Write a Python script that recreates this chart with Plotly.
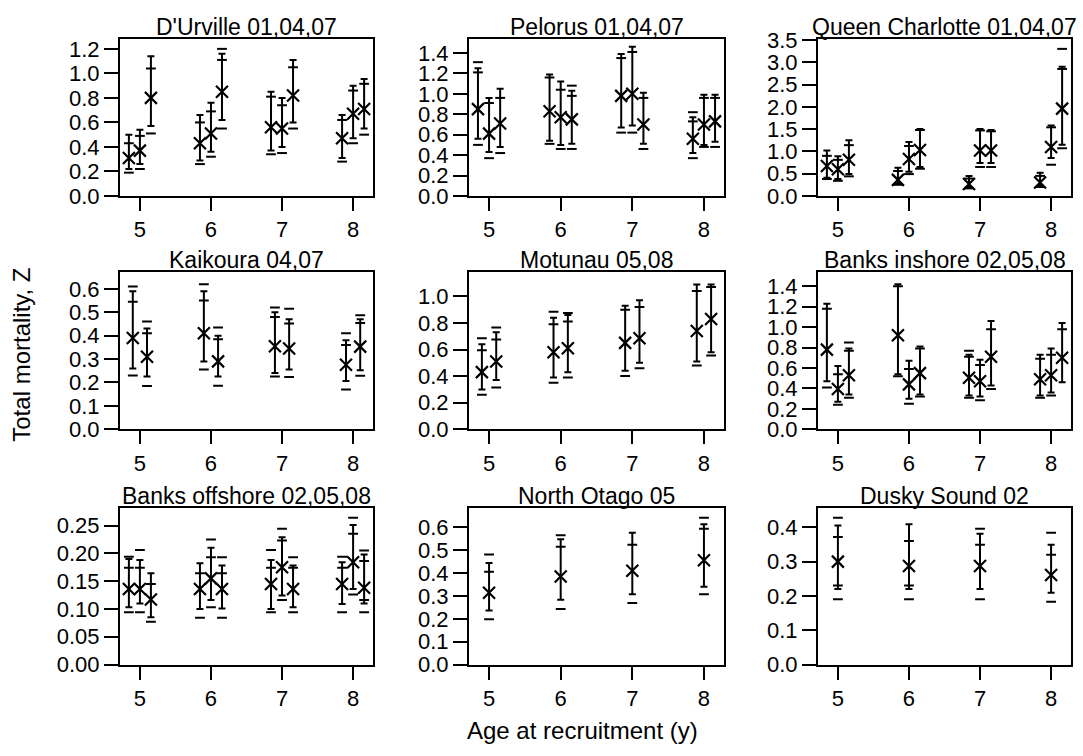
import plotly.graph_objects as go

AGES = [5, 6, 7, 8]
TITLES = ["D'Urville 01,04,07", "Pelorus 01,04,07", "Queen Charlotte 01,04,07",
          "Kaikoura 04,07", "Motunau 05,08", "Banks inshore 02,05,08",
          "Banks offshore 02,05,08", "North Otago 05", "Dusky Sound 02"]
N_SERIES = [3, 3, 3, 2, 2, 3, 3, 1, 1]
N = None

# Point estimates of Z (ordered age 5..8, series within age)
Z = [
    [.31, .37, .80, .43, .51, .85, .56, .55, .82, .47, .67, .71],
    [.85, .61, .71, .83, .77, .75, .98, 1.00, .70, .56, .70, .73],
    [.67, .60, .81, .36, .83, 1.03, .27, 1.02, 1.02, .30, 1.10, 1.96],
    [.39, .31, .41, .29, .355, .345, .276, .353],
    [.43, .51, .58, .61, .65, .685, .74, .83],
    [.78, .395, .53, .92, .44, .55, .505, .47, .71, .49, .53, .70],
    [.136, .136, .117, .136, .155, .136, .145, .175, .136, .145, .184, .138],
    [.314, .385, .41, .456],
    [.30, .287, .287, .261],
]
# Interval drawn as a capped bar
LO = [
    [.22, .26, .57, .29, .36, .62, .37, .40, .60, .31, .47, .55],
    [.56, .43, .48, .54, .50, .51, .67, .69, .51, .42, .50, .53],
    [.41, .38, .49, .27, .54, .65, .20, .74, .74, .23, .85, 1.15],
    [.26, .225, .29, .225, .24, .255, .206, .252],
    [.30, .37, .39, .43, .44, .50, .51, .58],
    [.47, .27, .34, .54, .30, .34, .33, .32, .43, .33, .36, .46],
    [.103, .11, .085, .10, .116, .101, .10, .124, .103, .109, .136, .11],
    [.236, .283, .307, .34],
    [.22, .22, .22, .209],
]
HI = [
    [.50, .54, 1.14, .66, .76, 1.16, .85, .80, 1.11, .66, .90, .955],
    [1.25, .96, 1.05, 1.19, 1.12, 1.03, 1.39, 1.46, 1.01, .77, .99, .99],
    [1.02, .89, 1.25, .63, 1.21, 1.50, .45, 1.50, 1.48, .52, 1.58, 2.90],
    [.59, .43, .59, .40, .50, .47, .38, .47],
    [.64, .73, .84, .86, .93, .97, 1.09, 1.09],
    [1.23, .62, .79, 1.42, .67, .81, .73, .68, 1.06, .73, .79, 1.04],
    [.19, .188, .164, .182, .21, .178, .188, .229, .178, .184, .251, .198],
    [.444, .548, .576, .614],
    [.405, .409, .381, .349],
]
# Second interval, drawn as short dashes only
IN_LO = [
    [N] * 12, [N] * 12, [N] * 12, [N] * 8, [N] * 8, [N] * 12,
    [N, N, N, N, N, N, N, N, N, N, N, .116],
    [N] * 4,
    [.23, .23, N, N],
]
IN_HI = [
    [.43, .49, 1.04, .60, .69, 1.11, .81, .74, 1.05, .62, .86, .915],
    [1.21, .91, .96, 1.16, 1.04, .98, 1.35, 1.41, .96, .73, .96, .96],
    [.90, .81, 1.14, .56, 1.12, 1.48, .39, 1.47, 1.45, .45, 1.54, 2.85],
    [.545, .41, .55, .385, .48, .452, .36, .454],
    [.595, .675, .79, .81, .90, .92, 1.04, 1.07],
    [1.18, .54, .77, 1.40, .59, .79, .71, .63, .98, .69, .73, .98],
    [.174, .174, .145, .164, .193, .164, .174, .223, .174, .174, .235, .186],
    [.406, .515, .524, .594],
    [.372, .36, .349, .32],
]
OUT_LO = [
    [.19, .22, .51, .26, .32, .55, .34, .35, .55, .28, .43, .50],
    [.50, .37, .42, .51, .46, .46, .62, .62, .46, .37, .48, .48],
    [.38, .34, .44, .25, .49, .61, .17, .65, .65, .20, .70, 1.07],
    [.23, .185, .255, .186, .225, .223, .17, .229],
    [.26, .315, .35, .39, .40, .46, .48, .555],
    [.41, .24, .31, .52, .25, .32, .31, .285, .395, .31, .33, N],
    [.094, .094, .077, .084, .103, .084, .094, .116, .094, .094, .126, .094],
    [.198, .243, .269, .307],
    [.19, .19, .19, .183],
]
OUT_HI = [
    [N, N, N, N, N, 1.20, N, N, N, N, N, N],
    [1.31, N, N, N, N, 1.08, N, N, N, .82, N, N],
    [N, N, N, N, N, N, N, N, N, N, N, 3.30],
    [.61, .46, .62, .435, .52, .515, .41, .487],
    [.685, .765, .885, .875, N, N, N, N],
    [N, N, .85, N, N, N, .77, N, N, N, N, N],
    [.194, .206, N, N, .225, .193, .206, .244, .193, .194, .264, .205],
    [.481, .566, N, .642],
    [.428, N, .396, .384],
]
Y_MAX = [1.28, 1.536, 3.52, 0.67, 1.18, 1.536, 0.282, 0.686, 0.457]
Y_DTICK = [0.2, 0.2, 0.5, 0.1, 0.2, 0.2, 0.05, 0.1, 0.1]
Y_FMT = [".1f"] * 6 + [".2f", ".1f", ".1f"]

W, H = 1083, 756
COLS = [(120, 373), (469, 724), (818, 1071)]
ROWS = [(29, 191), (270, 432), (513, 675)]
OFFSETS = {1: [0.0], 2: [-0.1, 0.1], 3: [-0.155, 0.0, 0.155]}

FONT = "Liberation Sans, Arial, sans-serif"
fig = go.Figure()
layout = dict(width=W, height=H, margin=dict(l=0, r=0, t=0, b=0),
              paper_bgcolor="white", plot_bgcolor="white", showlegend=False,
              font=dict(family=FONT, color="black", size=22))
annotations = []

for p in range(9):
    r, c = divmod(p, 3)
    x0, x1 = COLS[c]
    y0, y1 = ROWS[r]
    n = N_SERIES[p]
    xs = [a + o for a in AGES for o in OFFSETS[n]]
    ax = "" if p == 0 else str(p + 1)
    xa, ya = "x" + ax, "y" + ax
    z, lo, hi = Z[p], LO[p], HI[p]
    fig.add_trace(go.Scatter(
        x=xs, y=z, mode="markers", xaxis=xa, yaxis=ya,
        marker=dict(symbol="x-thin", size=12, color="black",
                    line=dict(width=2.2, color="black")),
        error_y=dict(type="data", symmetric=False,
                     array=[h - v for h, v in zip(hi, z)],
                     arrayminus=[v - l for v, l in zip(z, lo)],
                     color="black", thickness=2, width=3.5),
    ))
    dx, dy = [], []
    for arr in (IN_LO[p], IN_HI[p], OUT_LO[p], OUT_HI[p]):
        for xv, yv in zip(xs, arr):
            if yv is not None:
                dx.append(xv)
                dy.append(yv)
    fig.add_trace(go.Scatter(
        x=dx, y=dy, mode="markers", xaxis=xa, yaxis=ya,
        marker=dict(symbol="line-ew", size=7, color="black",
                    line=dict(width=2, color="black")),
    ))
    layout["xaxis" + ax] = dict(
        domain=[x0 / W, x1 / W], anchor=ya, range=[4.72, 8.28],
        tickvals=AGES, ticks="outside", ticklen=13, tickwidth=2,
        tickcolor="black", showline=True, linewidth=2, linecolor="black",
        mirror=True, showgrid=False, zeroline=False,
        tickfont=dict(size=22, family=FONT, color="black"))
    layout["yaxis" + ax] = dict(
        domain=[1 - y1 / H, 1 - y0 / H], anchor=xa, range=[0, Y_MAX[p]],
        tick0=0, dtick=Y_DTICK[p], tickformat=Y_FMT[p],
        ticks="outside", ticklen=14, tickwidth=2, tickcolor="black",
        showline=True, linewidth=2, linecolor="black", mirror=True,
        showgrid=False, zeroline=False,
        tickfont=dict(size=22, family=FONT, color="black"))
    annotations.append(dict(
        text=TITLES[p], xref="paper", yref="paper",
        x=(x0 + x1) / 2 / W, y=1 - y0 / H, xanchor="center", yanchor="bottom",
        yshift=-3, showarrow=False, font=dict(size=23, family=FONT, color="black")))

annotations.append(dict(text="Total mortality, Z", xref="paper", yref="paper",
                        x=22 / W, y=1 - 355 / H, textangle=-90, showarrow=False,
                        xanchor="center", yanchor="middle",
                        font=dict(size=24, family=FONT, color="black")))
annotations.append(dict(text="Age at recruitment (y)", xref="paper", yref="paper",
                        x=582 / W, y=1 - 743 / H, showarrow=False,
                        xanchor="center", yanchor="middle",
                        font=dict(size=24, family=FONT, color="black")))
layout["annotations"] = annotations
fig.update_layout(**layout)
fig.write_html("out.html")
